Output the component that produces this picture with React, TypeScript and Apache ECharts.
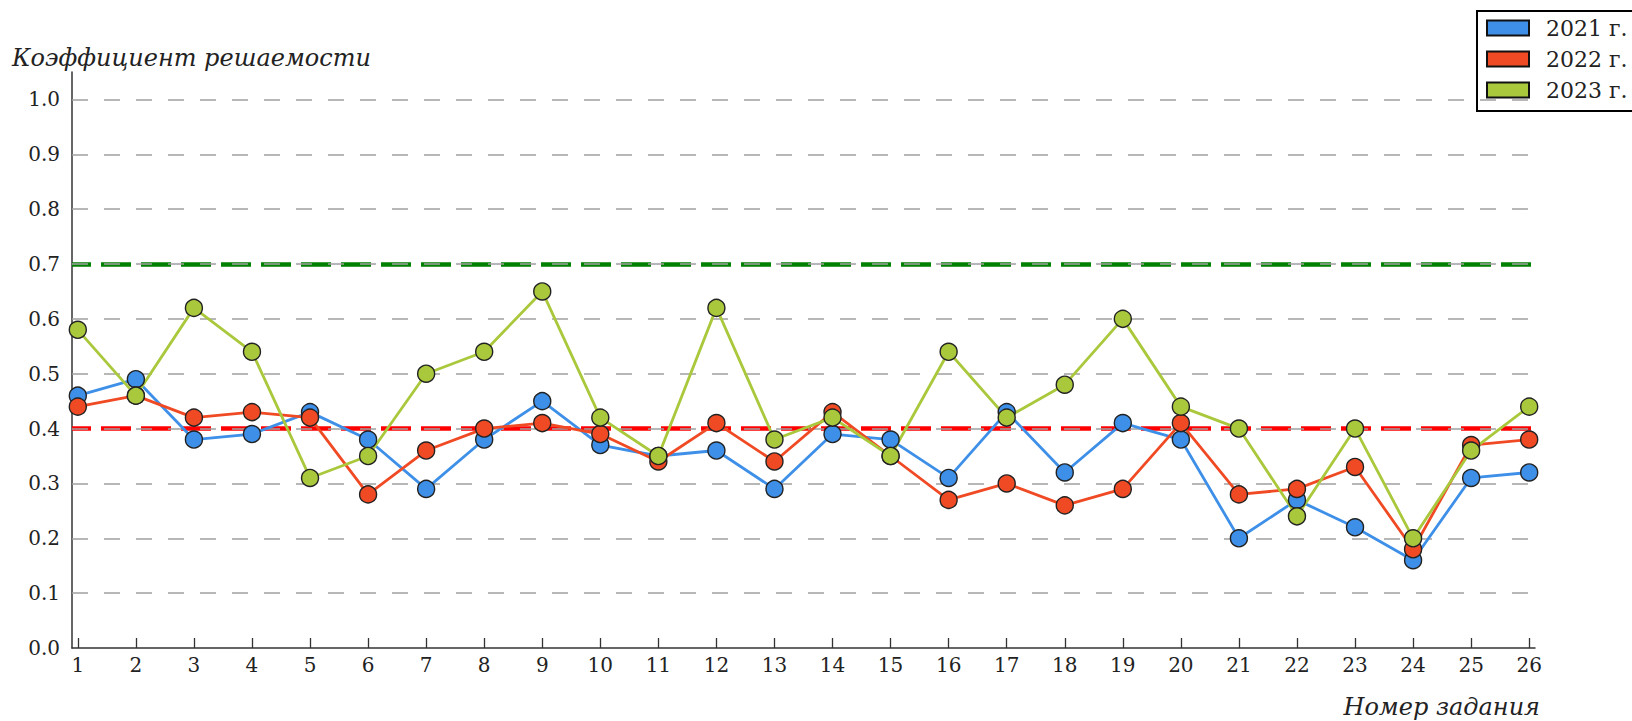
import React, { useEffect, useRef } from 'react';
import * as echarts from 'echarts';

const tasks = [1, 2, 3, 4, 5, 6, 7, 8, 9, 10, 11, 12, 13, 14, 15, 16, 17, 18, 19, 20, 21, 22, 23, 24, 25, 26];
const y2021 = [0.46, 0.49, 0.38, 0.39, 0.43, 0.38, 0.29, 0.38, 0.45, 0.37, 0.35, 0.36, 0.29, 0.39, 0.38, 0.31, 0.43, 0.32, 0.41, 0.38, 0.2, 0.27, 0.22, 0.16, 0.31, 0.32];
const y2022 = [0.44, 0.46, 0.42, 0.43, 0.42, 0.28, 0.36, 0.4, 0.41, 0.39, 0.34, 0.41, 0.34, 0.43, 0.35, 0.27, 0.3, 0.26, 0.29, 0.41, 0.28, 0.29, 0.33, 0.18, 0.37, 0.38];
const y2023 = [0.58, 0.46, 0.62, 0.54, 0.31, 0.35, 0.5, 0.54, 0.65, 0.42, 0.35, 0.62, 0.38, 0.42, 0.35, 0.54, 0.42, 0.48, 0.6, 0.44, 0.4, 0.24, 0.4, 0.2, 0.36, 0.44];
const seriesNames = ['2021 г.', '2022 г.', '2023 г.'];
const yTicks = [0, 0.1, 0.2, 0.3, 0.4, 0.5, 0.6, 0.7, 0.8, 0.9, 1.0];
const gridValues = [0.1, 0.2, 0.3, 0.4, 0.5, 0.6, 0.7, 0.8, 0.9, 1.0];
const refValues = [0.7, 0.4];
const refColors = ['#008000', '#ff0000'];
const colors = ['#3d8fe8', '#f04a24', '#aac83c'];

const FONT = "'DejaVu Serif', serif";

export default function App() {
  const ref = useRef<HTMLDivElement>(null);
  useEffect(() => {
    if (!ref.current) return;
    const chart = echarts.init(ref.current, undefined, { renderer: 'svg' });
    const values = [y2021, y2022, y2023];
    const dataSeries = values.map((arr, i) => ({
      name: seriesNames[i],
      type: 'line',
      z: 10,
      data: arr.map((v, j) => [tasks[j], v]),
      symbol: 'circle',
      symbolSize: 17,
      lineStyle: { color: colors[i], width: 2.8 },
      itemStyle: { color: colors[i], borderColor: '#222', borderWidth: 1.4 },
    }));
    chart.setOption({
      animation: false,
      backgroundColor: '#fff',
      grid: { left: 72, right: 97, top: 72, bottom: 73 },
      title: [
        {
          text: 'Коэффициент решаемости',
          left: 12,
          top: 46,
          padding: 0,
          textStyle: { fontFamily: FONT, fontStyle: 'italic', fontWeight: 'normal', fontSize: 24, color: '#222' },
        },
        {
          text: 'Номер задания',
          right: 92,
          top: 695,
          padding: 0,
          textStyle: { fontFamily: FONT, fontStyle: 'italic', fontWeight: 'normal', fontSize: 24, color: '#222' },
        },
      ],
      legend: {
        data: seriesNames,
        orient: 'vertical',
        left: 1477,
        top: 11,
        padding: [6, 14, 10, 9],
        itemWidth: 42,
        itemHeight: 15,
        itemGap: 9,
        icon: 'rect',
        borderColor: '#000',
        borderWidth: 2,
        backgroundColor: '#fff',
        itemStyle: { borderColor: '#111', borderWidth: 2 },
        textStyle: { fontFamily: FONT, fontSize: 22, color: '#222', padding: [0, 0, 0, 12], lineHeight: 22 },
      },
      xAxis: {
        type: 'value',
        min: 0.9,
        max: 26.1,
        axisLine: { show: true, lineStyle: { color: '#333', width: 1.5 } },
        axisTick: { show: true, inside: true, length: 10, customValues: tasks, lineStyle: { color: '#333', width: 1.3 } },
        axisLabel: { customValues: tasks, margin: 7, fontFamily: FONT, fontSize: 20, color: '#222' },
        splitLine: { show: false },
      },
      yAxis: {
        type: 'value',
        min: 0,
        max: 1.05,
        axisLine: { show: true, lineStyle: { color: '#333', width: 1.5 } },
        axisTick: { show: false },
        axisLabel: {
          customValues: yTicks,
          margin: 12,
          fontFamily: FONT,
          fontSize: 20,
          color: '#222',
          formatter: (v: number) => v.toFixed(1),
        },
        splitLine: { show: false },
      },
      series: [
        {
          type: 'line',
          data: [],
          silent: true,
          markLine: {
            z: 3,
            silent: true,
            symbol: 'none',
            label: { show: false },
            data: refValues.map((v, i) => ({
              yAxis: v,
              lineStyle: { color: refColors[i], width: 4.5, type: [30, 10], dashOffset: 11 },
            })),
          },
        },
        {
          type: 'line',
          data: [],
          silent: true,
          markLine: {
            z: 4,
            silent: true,
            symbol: 'none',
            label: { show: false },
            lineStyle: { color: '#a0a0a0', width: 1.5, type: [16, 16] },
            data: gridValues.map((v) => ({ yAxis: v })),
          },
        },
        ...dataSeries,
      ],
    });
    return () => chart.dispose();
  }, []);
  return <div ref={ref} style={{ position: 'fixed', left: 0, top: 0, width: 1632, height: 721 }} />;
}
